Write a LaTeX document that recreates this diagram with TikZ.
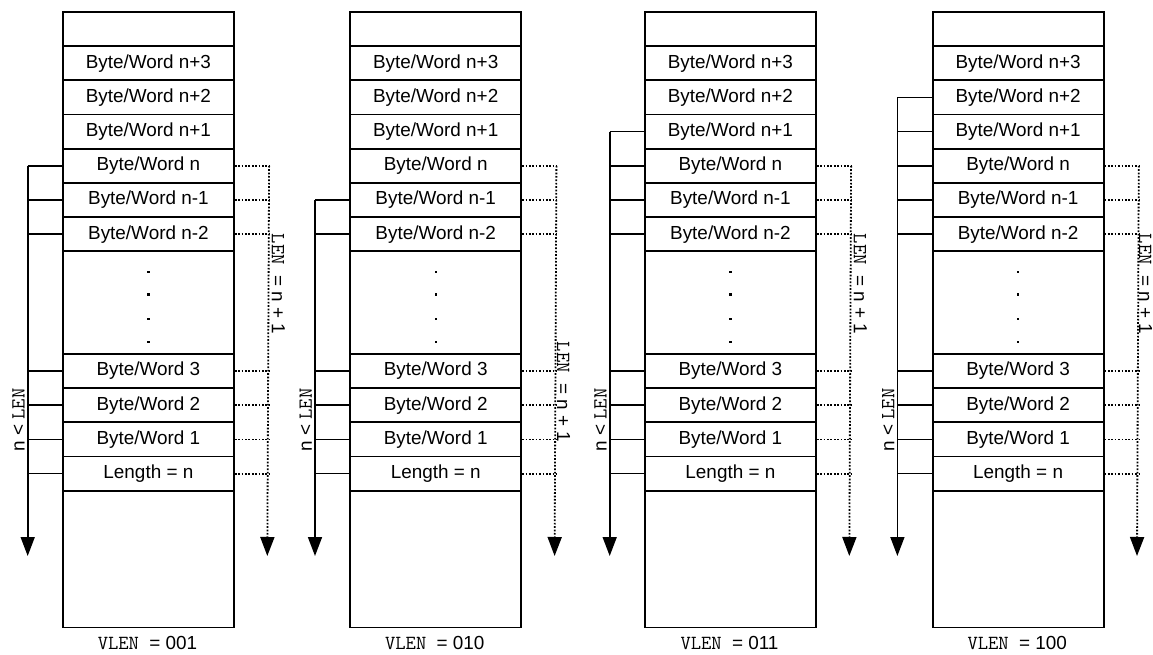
\documentclass[tikz,border=0pt]{standalone}
\usepackage{fontspec}
\setmainfont{Liberation Sans}
\usetikzlibrary{arrows.meta,calc}
\newcommand\bwtxt{Byte/Word}
\newcommand\mytt[1]{{\ttfamily\fontsize{20}{22}\selectfont #1}}
\tikzset{
  cell/.style={draw, line width=1.8pt, minimum width=171pt, inner sep=0pt, anchor=north west, font=\fontsize{18.9}{22}\selectfont},
  tick/.style={line width=1.5pt},
  dottick/.style={line width=1.8pt, dash pattern=on 1.7pt off 1.7pt},
  solidarrow/.style={line width=1.6pt, -{Triangle[length=19pt,width=14pt]}},
  dotarrow/.style={line width=1.8pt, dash pattern=on 1.7pt off 1.7pt, -{Triangle[length=19pt,width=14pt]}},
  lbl/.style={font=\fontsize{18.9}{22}\selectfont, inner sep=0pt},
  dotmark/.style={fill, inner sep=0pt, minimum size=2.4pt, rectangle}
}
\begin{document}
\begin{tikzpicture}[x=1pt,y=-1pt]
\useasboundingbox (0,0) rectangle (1153,655);
\foreach \c/\bx/\srow/\lenx/\leny in {1/62/4/11/284, 2/349.3/5/9/392, 3/644/3/11/284, 4/931.7/2/8.5/284}{
  % cells
  \foreach \k/\u/\h/\t in {0/0/1/{}, 1/1/1/{\bwtxt{} n+3}, 2/2/1/{\bwtxt{} n+2}, 3/3/1/{\bwtxt{} n+1}, 4/4/1/{\bwtxt{} n}, 5/5/1/{\bwtxt{} n-1}, 6/6/1/{\bwtxt{} n-2}, 7/7/3/{}, 8/10/1/{\bwtxt{} 3}, 9/11/1/{\bwtxt{} 2}, 10/12/1/{\bwtxt{} 1}, 11/13/1/{Length = n}, 12/14/4/{}}{
    \node[cell, minimum height=\h*34.2pt] (c\c r\k) at (\bx, 11+34.2*\u) {\t};
  }
  % dots in the gap
  \foreach \d/\dy in {1/21.3, 2/44.0, 3/68.6, 4/91.3}{
    \node[dotmark] (c\c dot\d) at ($(c\c r7.north)+(0,\dy)$) {};
  }
  % coordinates for connectors
  \foreach \k in {2,...,6,8,9,10,11}{
    \coordinate (c\c s\k) at ($(c\c r\k.west)+(-34.3,0)$);
    \coordinate (c\c d\k) at ($(c\c r\k.east)+(34.3,0)$);
  }
  \coordinate (c\c send) at (\bx-34.3, 556);
  \coordinate (c\c dend) at (\bx+171+34.3, 556);
  % solid ticks and arrow
  \foreach \k in {\srow,...,6,8,9,10,11}{
    \draw[tick] (c\c s\k) -- (c\c r\k.west);
  }
  \draw[solidarrow] (c\c s\srow) -- (c\c send);
  % dotted ticks and arrow
  \foreach \k in {4,5,6,8,9,10,11}{
    \draw[dottick] (c\c r\k.east) -- (c\c d\k);
  }
  \draw[dotarrow] (c\c d4) -- (c\c dend);
  % labels
  \node[lbl, rotate=90] (c\c nl) at (\bx-43.5, 420) {n < \mytt{LEN}};
  \node[lbl, rotate=-90] (c\c ln) at (\bx+171+34.3+\lenx, \leny) {\mytt{LEN }= n + 1};
}
\node[lbl] (v1) at (147.5, 643) {\mytt{VLEN }= 001};
\node[lbl] (v2) at (434.8, 643) {\mytt{VLEN }= 010};
\node[lbl] (v3) at (729.5, 643) {\mytt{VLEN }= 011};
\node[lbl] (v4) at (1017.2, 643) {\mytt{VLEN }= 100};
\end{tikzpicture}
\end{document}
